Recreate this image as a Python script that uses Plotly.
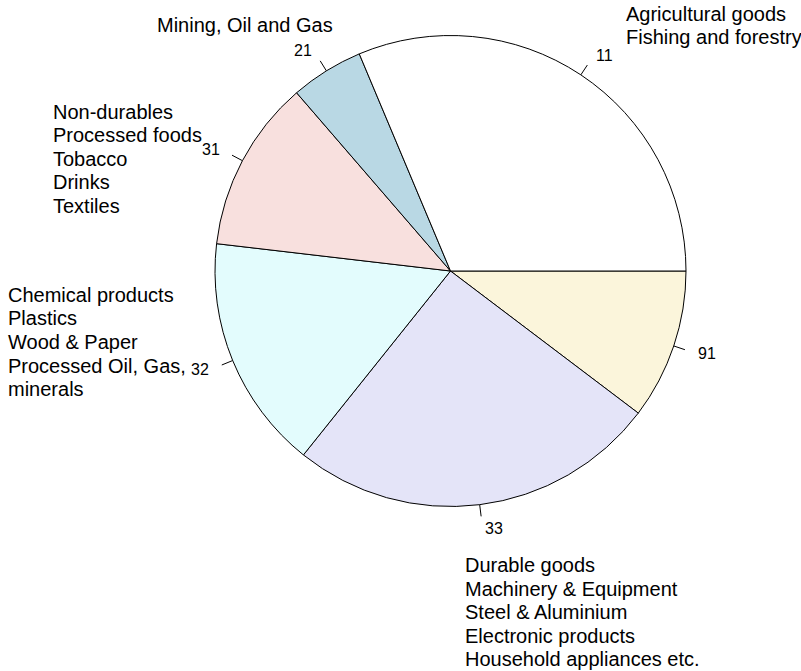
import math
import plotly.graph_objects as go

# ---- data ----
sector_codes = ["11", "21", "31", "32", "33", "91"]
shares = [31.3, 5.0, 11.8, 16.1, 25.4, 10.3]
slice_colors = ["#FFFFFF", "#B9D8E4", "#F8E0DE", "#E3FCFD", "#E4E4F8", "#FBF5DB"]

group_labels = [
    ["Agricultural goods", "Fishing and forestry"],
    ["Mining, Oil and Gas"],
    ["Non-durables", "Processed foods", "Tobacco", "Drinks", "Textiles"],
    ["Chemical products", "Plastics", "Wood & Paper", "Processed Oil, Gas,", "minerals"],
    ["Durable goods", "Machinery & Equipment", "Steel & Aluminium", "Electronic products",
     "Household appliances etc."],
]

# ---- layout (pixels) ----
W, H = 801, 671
CX, CY, R = 450.5, 271.0, 235.5
FONT = "Liberation Sans, Arial, Helvetica, sans-serif"

# position of each group's block of text: (left x, first line centre y)
group_pos = [(624, 13.5), (155, 25), (51, 111.7), (6, 295), (463, 565)]
LINE_STEP = 23.5


def px(x):
    return x / W


def py(y):
    return 1 - y / H


# R draws counter-clockwise from 3 o'clock; in Plotly this equals drawing the
# reversed series clockwise from 3 o'clock.
fig = go.Figure(go.Pie(
    values=shares[::-1],
    labels=sector_codes[::-1],
    sort=False,
    direction="clockwise",
    rotation=90,
    marker=dict(colors=slice_colors[::-1], line=dict(color="black", width=1)),
    textinfo="none",
    hoverinfo="skip",
    showlegend=False,
    domain=dict(x=[px(CX - R), px(CX + R)], y=[py(CY + R), py(CY - R)]),
))

shapes = []
annotations = []
total = sum(shares)
cum = 0.0
for code, v in zip(sector_codes, shares):
    mid = 2 * math.pi * (cum + v / 2) / total
    cum += v
    c, s = math.cos(mid), math.sin(mid)
    shapes.append(dict(
        type="line", xref="paper", yref="paper",
        x0=px(CX + R * c), y0=py(CY - R * s),
        x1=px(CX + 1.05 * R * c), y1=py(CY - 1.05 * R * s),
        line=dict(color="black", width=1),
    ))
    annotations.append(dict(
        text=code, showarrow=False, xref="paper", yref="paper",
        x=px(CX + 1.1 * R * c), y=py(CY - 1.1 * R * s),
        xanchor="right" if c < 0 else "left", yanchor="middle",
        font=dict(family=FONT, size=16, color="black"),
    ))

for lines, (gx, gy) in zip(group_labels, group_pos):
    for i, line in enumerate(lines):
        annotations.append(dict(
            text=line, showarrow=False, xref="paper", yref="paper",
            x=px(gx), y=py(gy + i * LINE_STEP),
            xanchor="left", yanchor="middle",
            font=dict(family=FONT, size=20, color="black"),
        ))

fig.update_layout(
    width=W, height=H,
    margin=dict(l=0, r=0, t=0, b=0),
    paper_bgcolor="white", plot_bgcolor="white",
    shapes=shapes, annotations=annotations,
)

fig.write_html("out.html", config={"displayModeBar": False},
               post_script="document.body.style.margin='0';")
